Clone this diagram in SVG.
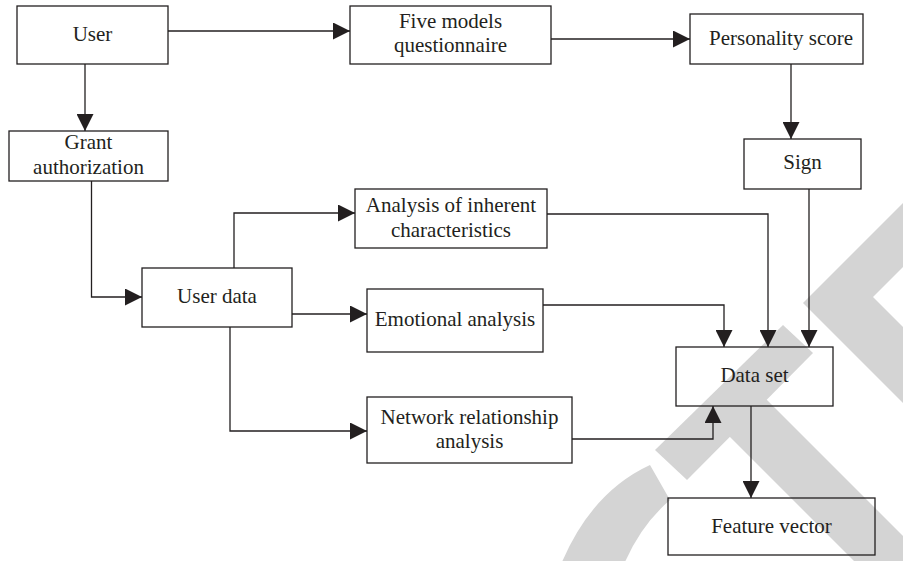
<svg xmlns="http://www.w3.org/2000/svg" width="903" height="561" viewBox="0 0 903 561">
<style>
.box{fill:none;stroke:#231f20;stroke-width:1.3}
.wire{fill:none;stroke:#231f20;stroke-width:1.3}
.lbl{font-family:"Liberation Serif","Times New Roman",serif;font-size:21px;fill:#231f20;text-anchor:middle}
.wm{fill:#d4d4d4;stroke:none}
</style>
<defs>
<marker id="ah" markerUnits="userSpaceOnUse" markerWidth="17" markerHeight="17" refX="17" refY="8.5" orient="auto">
<path d="M0,0 L17,8.5 L0,17 Z" fill="#231f20"/>
</marker>
</defs>
<rect x="0" y="0" width="903" height="561" fill="#ffffff"/>
<g id="watermark">
<path class="wm" d="M555 580 Q585 495 650 465 L670 500 Q635 530 618 580 Z"/>
<polygon class="wm" points="783,325 813,353 687,480 655,450"/>
<polygon class="wm" points="713,420 750,383 967,600 893,600"/>
<polygon class="wm" points="803,303 910,196 910,260 873,297 910,334 910,410"/>
</g>
<g id="connectors">
<path class="wire" d="M168 31 H350" marker-end="url(#ah)"/>
<path class="wire" d="M85 64 V131" marker-end="url(#ah)"/>
<path class="wire" d="M551 39 H690" marker-end="url(#ah)"/>
<path class="wire" d="M791 64 V139" marker-end="url(#ah)"/>
<path class="wire" d="M91.5 181 V297 H142" marker-end="url(#ah)"/>
<path class="wire" d="M234 268 V213 H355" marker-end="url(#ah)"/>
<path class="wire" d="M292 314 H367" marker-end="url(#ah)"/>
<path class="wire" d="M230 327 V431 H367" marker-end="url(#ah)"/>
<path class="wire" d="M547 214 H768 V347" marker-end="url(#ah)"/>
<path class="wire" d="M543 305 H724 V347" marker-end="url(#ah)"/>
<path class="wire" d="M809 189 V347" marker-end="url(#ah)"/>
<path class="wire" d="M572 439 H713 V406" marker-end="url(#ah)"/>
<path class="wire" d="M751 406 V498" marker-end="url(#ah)"/>
</g>
<g id="user">
<rect class="box" x="17" y="6" width="151" height="58"/>
<text class="lbl" x="92.5" y="41">User</text>
</g>
<g id="five-models">
<rect class="box" x="350" y="6" width="201" height="58"/>
<text class="lbl" x="450.5" y="28">Five models</text>
<text class="lbl" x="450.5" y="52">questionnaire</text>
</g>
<g id="personality-score">
<rect class="box" x="690" y="14" width="173" height="50"/>
<text class="lbl" x="781" y="45">Personality score</text>
</g>
<g id="grant-authorization">
<rect class="box" x="9" y="131" width="159" height="50"/>
<text class="lbl" x="88.5" y="149">Grant</text>
<text class="lbl" x="88.5" y="174">authorization</text>
</g>
<g id="sign">
<rect class="box" x="744" y="139" width="117" height="50"/>
<text class="lbl" x="802.5" y="169">Sign</text>
</g>
<g id="user-data">
<rect class="box" x="142" y="268" width="150" height="59"/>
<text class="lbl" x="217" y="303">User data</text>
</g>
<g id="analysis-inherent">
<rect class="box" x="355" y="189" width="192" height="59"/>
<text class="lbl" x="451" y="212">Analysis of inherent</text>
<text class="lbl" x="451" y="237">characteristics</text>
</g>
<g id="emotional-analysis">
<rect class="box" x="367" y="289" width="176" height="63"/>
<text class="lbl" x="455" y="326">Emotional analysis</text>
</g>
<g id="network-analysis">
<rect class="box" x="367" y="397" width="205" height="66"/>
<text class="lbl" x="469.5" y="424">Network relationship</text>
<text class="lbl" x="469.5" y="448">analysis</text>
</g>
<g id="data-set">
<rect class="box" x="676" y="347" width="157" height="59"/>
<text class="lbl" x="754.5" y="382">Data set</text>
</g>
<g id="feature-vector">
<rect class="box" x="668" y="498" width="207" height="57"/>
<text class="lbl" x="771.5" y="533">Feature vector</text>
</g>
</svg>
